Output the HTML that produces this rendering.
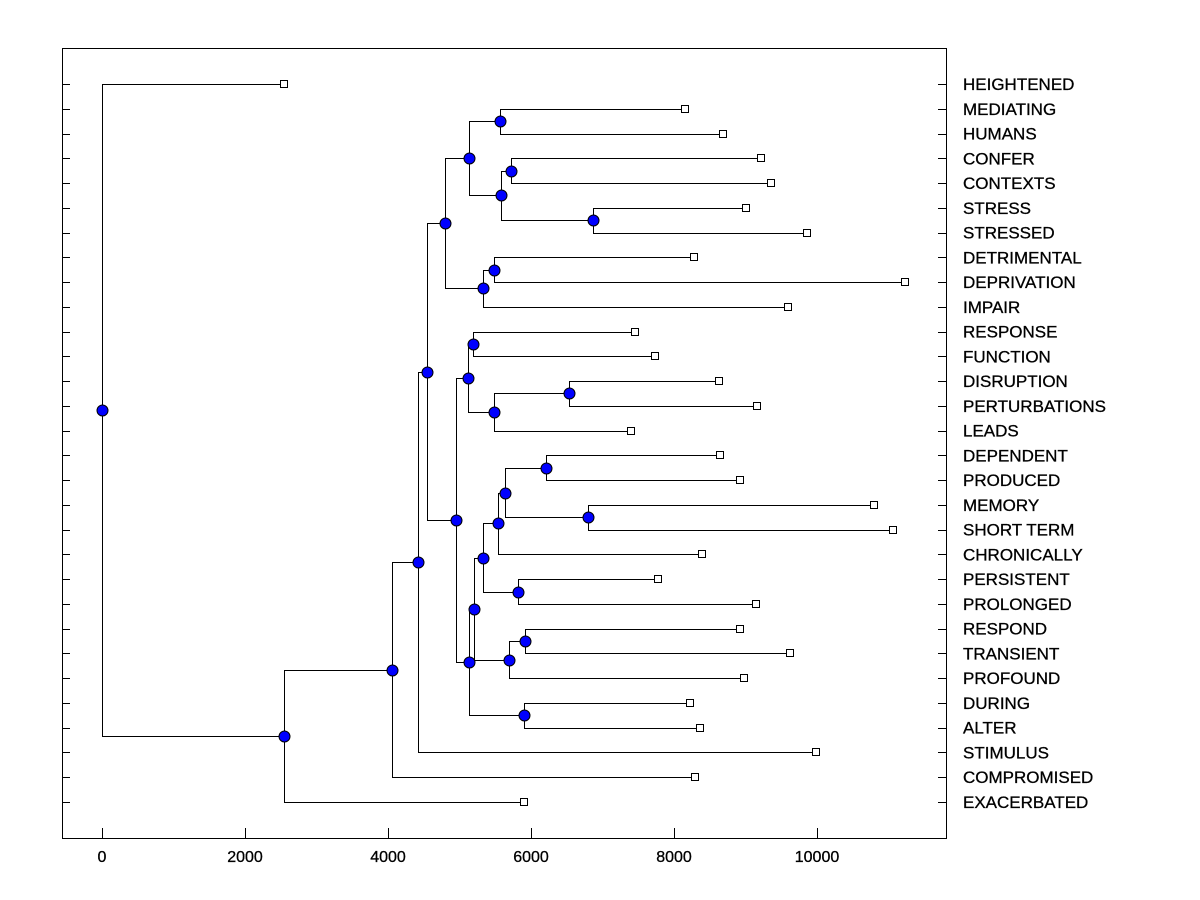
<!DOCTYPE html>
<html><head><meta charset="utf-8"><style>
html,body{margin:0;padding:0;background:#fff;}
svg{display:block;font-family:"Liberation Sans",Arial,sans-serif;}
</style></head><body>
<svg id="chart" width="1200" height="900"></svg>
<script>
const leafNames=["HEIGHTENED","MEDIATING","HUMANS","CONFER","CONTEXTS","STRESS","STRESSED","DETRIMENTAL","DEPRIVATION","IMPAIR","RESPONSE","FUNCTION","DISRUPTION","PERTURBATIONS","LEADS","DEPENDENT","PRODUCED","MEMORY","SHORT TERM","CHRONICALLY","PERSISTENT","PROLONGED","RESPOND","TRANSIENT","PROFOUND","DURING","ALTER","STIMULUS","COMPROMISED","EXACERBATED"];
const leafHeights=[2542,8156,8687,9218,9358,9008,9860,8282,11229,9595,7458,7737,8631,9162,7402,8645,8925,10796,11061,8394,7779,9148,8925,9623,8980,8226,8366,9986,8296,5908];
// merges: [childA, childB, height]; leaves 0..29, node k => 30+k
const merges=[
[1,2,5573],
[3,4,5726],
[5,6,6872],
[31,32,5587],
[30,33,5126],
[7,8,5489],
[35,9,5335],
[34,36,4791],
[10,11,5182],
[12,13,6536],
[39,14,5489],
[38,40,5112],
[15,16,6215],
[17,18,6802],
[42,43,5642],
[44,19,5545],
[20,21,5824],
[45,46,5335],
[22,23,5922],
[48,24,5698],
[47,49,5209],
[25,26,5908],
[50,51,5126],
[41,52,4958],
[37,53,4539],
[54,27,4413],
[55,28,4050],
[56,29,2542],
[0,57,0]
];
const xTicks=[0,2000,4000,6000,8000,10000];

const NS="http://www.w3.org/2000/svg";
const svg=document.getElementById('chart');
const L=62,R=946,T=48,B=838;
const xs=v=>102+v*0.0715;
const ys=i=>84+i*(802-84)/29;
function mk(tag,attrs,parent){const e=document.createElementNS(NS,tag);for(const k in attrs)e.setAttribute(k,attrs[k]);(parent||svg).appendChild(e);return e;}

const frame=mk('rect',{x:L+0.5,y:T+0.5,width:R-L,height:B-T,fill:'none',stroke:'#000','stroke-width':1});



const xg=mk('g',{});


xTicks.forEach(t=>{
  const x=Math.round(xs(t))+0.5;
  const tk=mk('line',{x1:x,x2:x,y1:B,y2:B-10,stroke:'#000'},xg);
  
  
  const tl=mk('text',{x:xs(t),y:862,'text-anchor':'middle','font-size':16,'stroke':'#000','stroke-width':0.3},xg);
  tl.textContent=t;
  
  
});

const pos={};
leafNames.forEach((n,i)=>{pos[i]={x:xs(leafHeights[i]),y:ys(i)};});
merges.forEach((m,k)=>{
  const a=pos[m[0]],b=pos[m[1]];
  pos[30+k]={x:xs(m[2]),y:(a.y+b.y)/2};
});

const lg=mk('g',{stroke:'#000','stroke-width':1,fill:'none'});


merges.forEach((m,k)=>{
  const p=pos[30+k];
  [m[0],m[1]].forEach(c=>{
    const q=pos[c];
    const px=Math.round(p.x)+0.5, qy=Math.round(q.y)+0.5, py=Math.round(p.y)+0.5;
    const pl=mk('polyline',{points:`${px},${py} ${px},${qy} ${Math.round(q.x)},${qy}`},lg);
    
    
  });
});

leafNames.forEach((n,i)=>{
  const y=Math.round(ys(i))+0.5;
  const t1=mk('line',{x1:L,x2:L+8,y1:y,y2:y,stroke:'#000'});
  
  
  const t2=mk('line',{x1:R-8,x2:R,y1:y,y2:y,stroke:'#000'});
  
  
  const p=pos[i];
  const sq=mk('rect',{x:Math.round(p.x)-3.5,y:y-4,width:7,height:7,fill:'#fff',stroke:'#000'});
  
  
  const tx=mk('text',{x:963,y:ys(i)+6,'font-size':17,'stroke':'#000','stroke-width':0.3});
  tx.textContent=n;
  
  
});

merges.forEach((m,k)=>{
  const p=pos[30+k];
  const c=mk('circle',{cx:Math.round(p.x)+0.5,cy:Math.round(p.y)+0.5,r:5.5,fill:'#0000ff',stroke:'#000','stroke-width':1});
  
  
});
</script>
</body></html>
